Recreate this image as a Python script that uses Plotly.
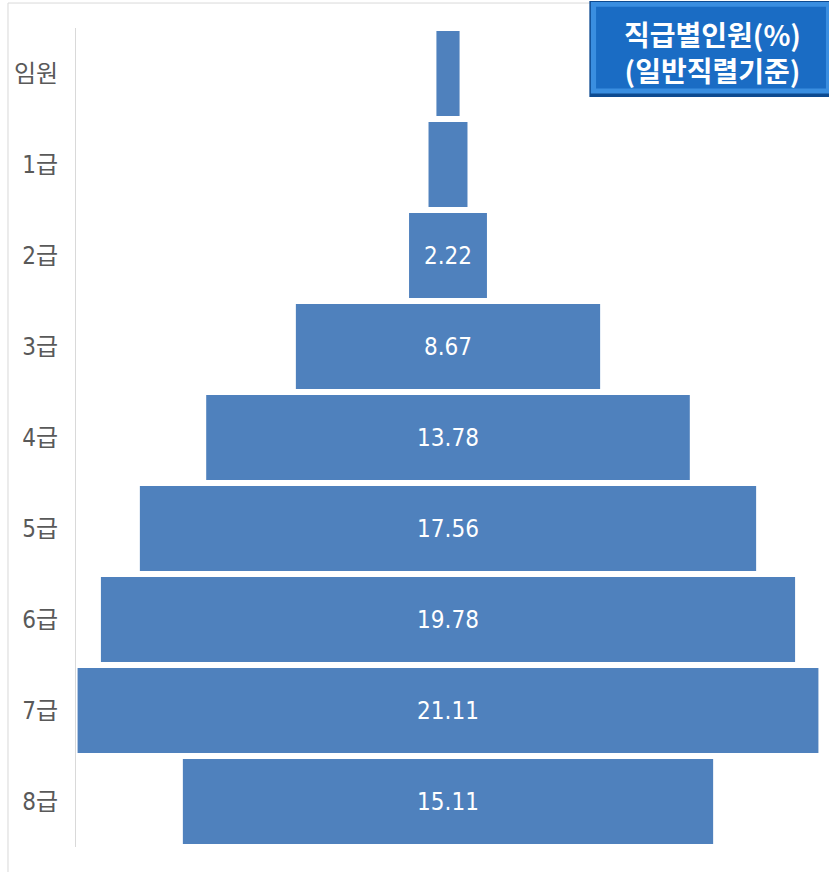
import plotly.graph_objects as go

categories = ["임원", "1급", "2급", "3급", "4급", "5급", "6급", "7급", "8급"]
values = [0.66, 1.11, 2.22, 8.67, 13.78, 17.56, 19.78, 21.11, 15.11]
labels = ["", "", "2.22", "8.67", "13.78", "17.56", "19.78", "21.11", "15.11"]
title_lines = ["직급별인원(%)", "(일반직렬기준)"]

bases = [-v / 2 for v in values]

fig = go.Figure()
fig.add_trace(go.Bar(
    y=categories,
    x=values,
    base=bases,
    orientation="h",
    marker=dict(color="#4f81bd", line=dict(width=0)),
    text=labels,
    textposition="inside",
    insidetextanchor="middle",
    textangle=0,
    textfont=dict(family="DejaVu Sans Condensed, Noto Sans", size=24, color="white"),
    hoverinfo="skip",
))

fig.update_layout(
    width=829,
    height=872,
    margin=dict(l=76, r=9, t=28, b=25),
    paper_bgcolor="white",
    plot_bgcolor="white",
    bargap=0.066,
    showlegend=False,
    uniformtext=dict(minsize=8, mode="show"),
    xaxis=dict(range=[-10.6, 10.6], visible=False, fixedrange=True),
    yaxis=dict(
        categoryorder="array",
        categoryarray=categories,
        autorange="reversed",
        showline=True,
        linecolor="#d9d9d9",
        linewidth=1,
        showgrid=False,
        zeroline=False,
        ticks="",
        ticklabelstandoff=12,
        fixedrange=True,
        tickfont=dict(family="DejaVu Sans Condensed, Noto Sans CJK KR", size=24, color="#595959"),
    ),
)

# outer light frame
fig.add_shape(type="rect", xref="paper", yref="paper",
              x0=-0.0914, x1=1.02, y0=-0.05, y1=1.0305,
              line=dict(color="#d9d9d9", width=1), fillcolor="rgba(0,0,0,0)", layer="below")

# title box (beveled blue)
fig.add_shape(type="rect", xref="paper", yref="paper",
              x0=0.690, x1=1.02, y0=0.9158, y1=1.0330,
              line=dict(width=0), fillcolor="#0d4a90")
fig.add_shape(type="rect", xref="paper", yref="paper",
              x0=0.692, x1=1.014, y0=0.9200, y1=1.0317,
              line=dict(width=0), fillcolor="#3a8ee0")
fig.add_shape(type="rect", xref="paper", yref="paper",
              x0=0.699, x1=1.008, y0=0.926, y1=1.026,
              line=dict(width=0), fillcolor="#1a6cc4")

fig.add_annotation(
    xref="paper", yref="paper",
    x=0.855, y=1 + (28 - 52) / 819,
    text="<b>" + title_lines[0] + "</b><br><b>" + title_lines[1] + "</b>",
    showarrow=False,
    font=dict(family="Noto Sans CJK KR", size=28, color="white"),
    align="center",
    xanchor="center", yanchor="middle",
)

fig.write_html(
    "out.html",
    config={"displayModeBar": False},
    post_script="document.body.style.margin='0px';document.body.style.overflow='hidden';",
)
